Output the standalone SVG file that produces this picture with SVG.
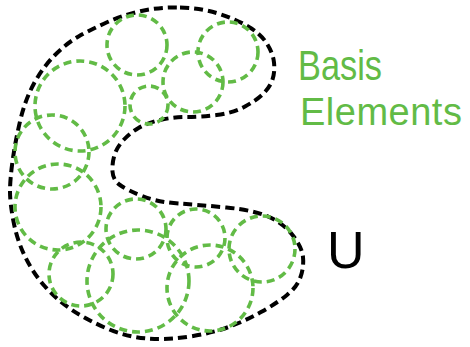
<svg xmlns="http://www.w3.org/2000/svg" width="470" height="347" viewBox="0 0 470 347">
<style>
.basis{fill:none;stroke:#62bb46;stroke-width:3.6;stroke-dasharray:8 5}
.set{fill:none;stroke:#000;stroke-width:4;stroke-dasharray:9 5}
.lbl{font-family:"Liberation Sans",Arial,sans-serif;fill:#62bb46}
.u{font-family:"Liberation Sans",Arial,sans-serif;fill:#000}
</style>
<rect width="470" height="347" fill="#fff"/>
<g id="set-U">
<path class="set" d="M180,7.5 Q200,8 216.5,13 Q233,18 246.5,25.5 Q260,33 266.5,43 Q273,53 274,62.5 Q275,72 272.5,79.5 Q270,87 263.5,93.5 Q257,100 245,106.5 Q233,113 216.5,115 Q200,117 186.5,117 Q173,117 160,120 Q147,123 138.5,128 Q130,133 123.5,140 Q117,147 114.5,155 Q112,163 112.5,171.5 Q113,180 120,185 Q127,190 142,196 Q157,202 178.5,203.5 Q200,205 226.5,207.5 Q253,210 268,216.5 Q283,223 292.5,235 Q302,247 303,257 Q304,267 300.5,277 Q297,287 287,295 Q277,303 262,311.5 Q247,320 230,326.5 Q213,333 190,336.5 Q167,340 147,338.5 Q127,337 107,328.5 Q87,320 72,310 Q57,300 45,286.5 Q33,273 25,256.5 Q17,240 13.5,221.5 Q10,203 10,191.5 Q10,180 12.5,161.5 Q15,143 20,121.5 Q25,100 34,83.5 Q43,67 55,55 Q67,43 78.5,36.5 Q90,30 106.5,22.5 Q123,15 141.5,11 Q160,7 180,7.5 Z"/>
</g>
<g id="basis-elements">
<circle class="basis" cx="137" cy="45" r="30"/>
<circle class="basis" cx="228" cy="52" r="30"/>
<circle class="basis" cx="193" cy="82" r="30"/>
<circle class="basis" cx="149" cy="105" r="19"/>
<circle class="basis" cx="80" cy="106" r="45"/>
<circle class="basis" cx="52" cy="152" r="37"/>
<circle class="basis" cx="58" cy="207" r="43"/>
<circle class="basis" cx="81" cy="274" r="32"/>
<circle class="basis" cx="136" cy="229" r="30"/>
<circle class="basis" cx="138" cy="281" r="51"/>
<circle class="basis" cx="196" cy="238" r="29"/>
<circle class="basis" cx="210" cy="288" r="43"/>
<circle class="basis" cx="262" cy="249" r="33"/>
</g>
<g id="label-basis">
<text class="lbl" x="298" y="80" font-size="42" textLength="84" lengthAdjust="spacingAndGlyphs">Basis</text>
<text class="lbl" x="300" y="125" font-size="38" letter-spacing="0.5">Elements</text>
</g>
<g id="label-u">
<text class="u" x="327" y="268" font-size="52">U</text>
</g>
</svg>
